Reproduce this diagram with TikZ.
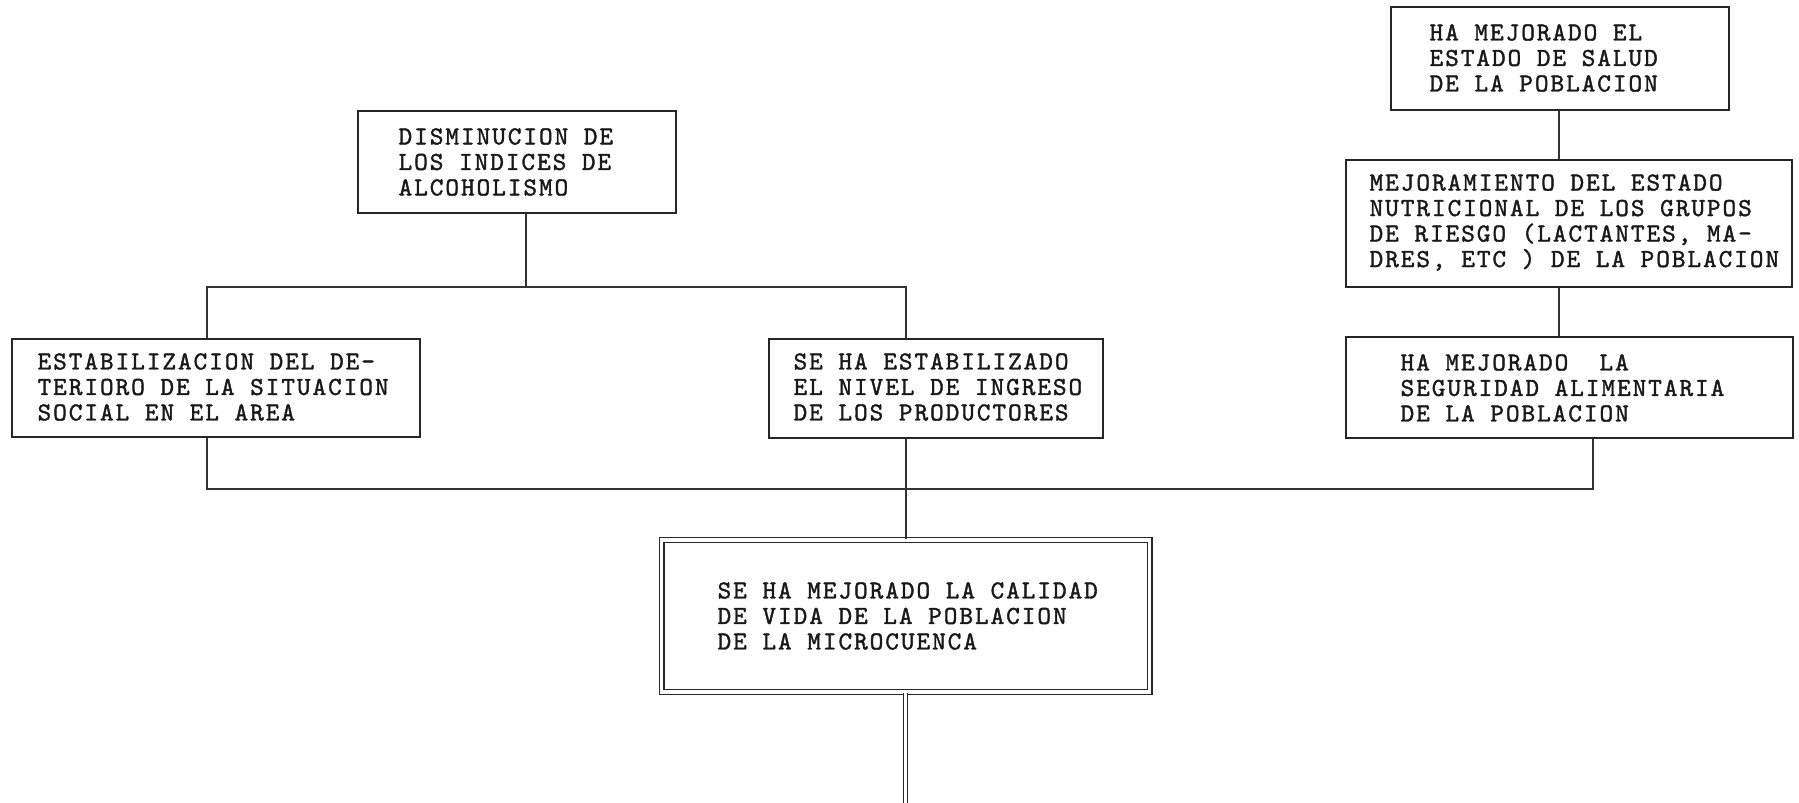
\documentclass[tikz,border=0pt]{standalone}
\usepackage{fontspec}
\newfontfamily\boxfont[LetterSpace=7.5,FakeBold=1.5]{lmmono10-regular.otf}
\begin{document}
\begin{tikzpicture}[x=1pt,y=-1pt,
  line width=1.2pt,
  box/.style={draw=black!85, rectangle, inner sep=0pt, fill=none},
  lbl/.style={anchor=west, inner sep=0pt, align=left, text=black!90,
    font=\boxfont\fontsize{26}{25.5}\selectfont},
  wire/.style={draw=black!80, line width=1.2pt}]
\useasboundingbox (0,0) rectangle (1799,803);

% boxes
\node[box, minimum width=318pt, minimum height=102pt] (b1) at (517,162) {};
\node[box, minimum width=338pt, minimum height=103pt] (b2) at (1560,58.5) {};
\node[box, minimum width=446pt, minimum height=127pt] (b3) at (1569,223.5) {};
\node[box, minimum width=408pt, minimum height=98pt] (b4) at (216,388) {};
\node[box, minimum width=334pt, minimum height=99pt] (b5) at (936,388.5) {};
\node[box, minimum width=447pt, minimum height=101pt] (b6) at (1569.5,387.5) {};
\node[box, double=white, double distance=3.6pt, line width=1.2pt,
      minimum width=488pt, minimum height=152.5pt] (b7) at (905.5,616) {};

% texts
\node[lbl] (t1) at (398,162) {DISMINUCION DE\\LOS INDICES DE\\ALCOHOLISMO};
\node[lbl] (t2) at (1429,58) {HA MEJORADO EL\\ESTADO DE SALUD\\DE LA POBLACION};
\node[lbl] (t3) at (1369,222.5) {MEJORAMIENTO DEL ESTADO\\NUTRICIONAL DE LOS GRUPOS\\DE RIESGO (LACTANTES, MA-\\DRES, ETC ) DE LA POBLACION};
\node[lbl] (t4) at (37,387) {ESTABILIZACION DEL DE-\\TERIORO DE LA SITUACION\\SOCIAL EN EL AREA};
\node[lbl] (t5) at (793,387) {SE HA ESTABILIZADO\\EL NIVEL DE INGRESO\\DE LOS PRODUCTORES};
\node[lbl] (t6) at (1400,388) {HA MEJORADO\ \ LA\\SEGURIDAD ALIMENTARIA\\DE LA POBLACION};
\node[lbl] (t7) at (717,616) {SE HA MEJORADO LA CALIDAD\\DE VIDA DE LA POBLACION\\DE LA MICROCUENCA};

% junction coordinates
\coordinate (j1) at (526,287);
\coordinate (tl) at (207,287);
\coordinate (tr) at (906,287);
\coordinate (bl) at (207,489);
\coordinate (br) at (1593,489);
\coordinate (rx) at (1559,0);
\coordinate (endp) at (905.5,803);

% upper tree
\draw[wire] (j1 |- b1.south) -- (j1);
\draw[wire] (tl |- b4.north) -- (tl) -- (tr) -- (tr |- b5.north);

% right chain
\draw[wire] (rx |- b2.south) -- (rx |- b3.north);
\draw[wire] (rx |- b3.south) -- (rx |- b6.north);

% lower bus
\draw[wire] (bl |- b4.south) -- (bl) -- (br) -- (br |- b6.south);
\draw[wire] (tr |- b5.south) -- (tr |- b7.north);

% double output line
\draw[draw=black!85, double=white, double distance=3pt, line width=1.1pt] (b7.south) -- (endp);
\end{tikzpicture}
\end{document}
